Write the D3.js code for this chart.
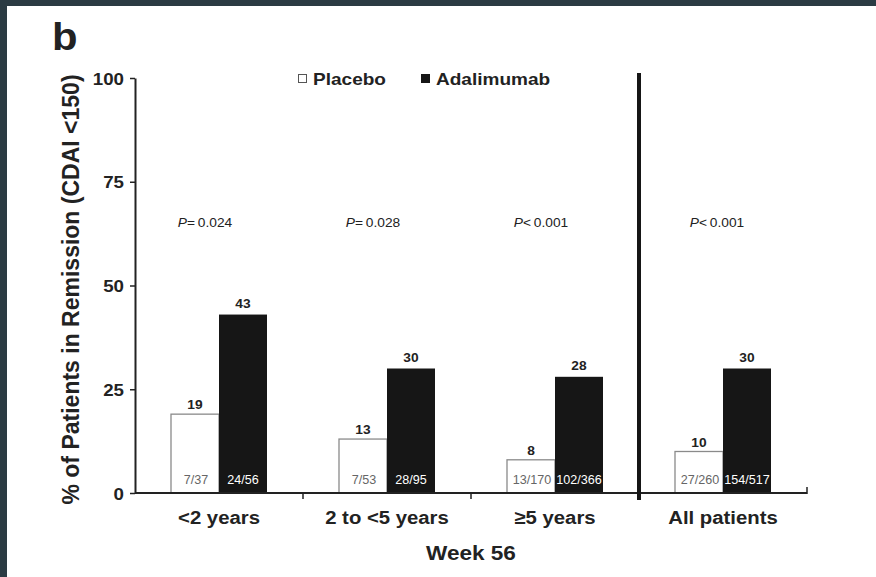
<!DOCTYPE html>
<html>
<head>
<meta charset="utf-8">
<script src="https://cdn.jsdelivr.net/npm/d3@7"></script>
<style>
  html, body { margin: 0; padding: 0; background: #2b3b43; }
  #chart { position: absolute; left: 7px; top: 6px; width: 869px; height: 571px; background: #fff; }
  text { font-family: "Liberation Sans", Arial, sans-serif; fill: #222; }
</style>
</head>
<body>
<div id="chart"></div>
<script>
// data
const categories = ["<2 years", "2 to <5 years", "\u22655 years", "All patients"];
const placebo = [19, 13, 8, 10];
const adalimumab = [43, 30, 28, 30];
const placeboN = ["7/37", "7/53", "13/170", "27/260"];
const adalimumabN = ["24/56", "28/95", "102/366", "154/517"];
const pSign = ["=", "=", "<", "<"];
const pValue = ["0.024", "0.028", "0.001", "0.001"];
const yTicks = [0, 25, 50, 75, 100];

const width = 876, height = 577;
const svg = d3.select("#chart")
    .append("svg")
    .attr("width", width - 7)
    .attr("height", height - 6)
    .attr("viewBox", `7 6 ${width - 7} ${height - 6}`)
    .style("display", "block");

// the source figure is a bit stretched sideways, so text gets widened too
const SX = 1.1;
function widen(sel, sx = SX) {
    sel.each(function() {
        const t = d3.select(this);
        const tx = +t.attr("x") || 0, ty = +t.attr("y") || 0;
        t.attr("x", 0).attr("y", 0)
         .attr("transform", `translate(${tx},${ty}) scale(${sx},1)`);
    });
}

const margin = {top: 78, left: 135, bottom: 493, right: 807};

const x = d3.scaleBand()
    .domain(categories)
    .range([margin.left, margin.right])
    .padding(0);

const barW = 48;

const y = d3.scaleLinear()
    .domain([0, 100])
    .range([margin.bottom, margin.top]);

// "b" panel letter
svg.append("text")
    .attr("x", 52).attr("y", 50)
    .style("font-size", "38px").style("font-weight", "bold")
    .text("b")
    .call(widen);

// y axis
const yAxis = svg.append("g")
    .attr("transform", `translate(${margin.left},0)`)
    .call(d3.axisLeft(y).tickValues(yTicks).tickSize(5).tickSizeOuter(0).tickPadding(6));
yAxis.select(".domain").attr("stroke", "#222").attr("stroke-width", 2);
yAxis.selectAll(".tick line").attr("stroke", "#222").attr("stroke-width", 1.5);
yAxis.selectAll(".tick text")
    .style("font-size", "17px").style("font-weight", "bold")
    .attr("fill", "#222")
    .attr("dy", "0.36em")
    .each(function() {
        const t = d3.select(this);
        t.attr("transform", `translate(${t.attr("x")},0) scale(${SX},1)`).attr("x", 0);
    });

svg.append("text")
    .attr("transform", `translate(79,${(margin.top + margin.bottom) / 2 + 4}) rotate(-90)`)
    .attr("text-anchor", "middle")
    .style("font-size", "23px").style("font-weight", "bold")
    .text("% of Patients in Remission (CDAI <150)");

// bars
const groups = svg.append("g")
    .selectAll("g")
    .data(categories)
    .join("g")
    .attr("transform", d => `translate(${x(d) + x.bandwidth() / 2},0)`);

groups.append("rect")
    .attr("x", -barW)
    .attr("y", (d, i) => y(placebo[i]))
    .attr("width", barW)
    .attr("height", (d, i) => y(0) - y(placebo[i]))
    .attr("fill", "#fff")
    .attr("stroke", "#8a8a8a")
    .attr("stroke-width", 1.3);

groups.append("rect")
    .attr("x", 0)
    .attr("y", (d, i) => y(adalimumab[i]))
    .attr("width", barW)
    .attr("height", (d, i) => y(0) - y(adalimumab[i]))
    .attr("fill", "#161616");

// value labels
groups.append("text")
    .attr("x", -barW / 2)
    .attr("y", (d, i) => y(placebo[i]) - 5)
    .attr("text-anchor", "middle")
    .style("font-size", "12.5px").style("font-weight", "bold")
    .text((d, i) => placebo[i])
    .call(widen);

groups.append("text")
    .attr("x", barW / 2)
    .attr("y", (d, i) => y(adalimumab[i]) - 7)
    .attr("text-anchor", "middle")
    .style("font-size", "12.5px").style("font-weight", "bold")
    .text((d, i) => adalimumab[i])
    .call(widen);

// n/N inside bars
groups.append("text")
    .attr("x", -barW / 2 + 1)
    .attr("y", y(0) - 9)
    .attr("text-anchor", "middle")
    .style("font-size", "12px")
    .style("fill", "#666")
    .text((d, i) => placeboN[i])
    .call(widen, 1.05);

groups.append("text")
    .attr("x", barW / 2)
    .attr("y", y(0) - 9)
    .attr("text-anchor", "middle")
    .style("font-size", "12px")
    .style("fill", "#fff")
    .text((d, i) => adalimumabN[i])
    .call(widen, 1.05);

// P values
const pText = groups.append("text")
    .attr("x", (d, i) => i === 3 ? -6 : -14)
    .attr("y", 227)
    .attr("text-anchor", "middle")
    .style("font-size", "12.5px");
pText.append("tspan").style("font-style", "italic").text("P");
pText.append("tspan").text((d, i) => pSign[i] + "\u2009" + pValue[i]);
pText.call(widen);

// x axis baseline with ticks at band edges
svg.append("line")
    .attr("x1", margin.left).attr("x2", margin.right)
    .attr("y1", y(0)).attr("y2", y(0))
    .attr("stroke", "#222").attr("stroke-width", 2);

svg.append("g")
    .selectAll("line")
    .data(categories.slice(1, 3))
    .join("line")
    .attr("x1", d => x(d)).attr("x2", d => x(d))
    .attr("y1", y(0)).attr("y2", y(0) + 6)
    .attr("stroke", "#222").attr("stroke-width", 1.5);

svg.append("line")
    .attr("x1", margin.right).attr("x2", margin.right)
    .attr("y1", y(0) + 1).attr("y2", y(0) - 6)
    .attr("stroke", "#222").attr("stroke-width", 1.5);

// separator before "All patients"
svg.append("line")
    .attr("x1", x(categories[3])).attr("x2", x(categories[3]))
    .attr("y1", 73).attr("y2", 500)
    .attr("stroke", "#161616").attr("stroke-width", 4);

// category labels
groups.append("text")
    .attr("x", 0)
    .attr("y", 524)
    .attr("text-anchor", "middle")
    .style("font-size", "19px").style("font-weight", "bold")
    .text(d => d)
    .call(widen, 1.07);

svg.append("text")
    .attr("x", (margin.left + margin.right) / 2)
    .attr("y", 560)
    .attr("text-anchor", "middle")
    .style("font-size", "20.5px").style("font-weight", "bold")
    .text("Week 56")
    .call(widen);

// legend
const legend = [
    {name: "Placebo", fill: "#fff", stroke: "#555", x: 298},
    {name: "Adalimumab", fill: "#161616", stroke: "#161616", x: 421}
];
const lg = svg.append("g")
    .selectAll("g")
    .data(legend)
    .join("g")
    .attr("transform", d => `translate(${d.x},74)`);
lg.append("rect")
    .attr("x", 0.5).attr("y", 0.5)
    .attr("width", 8).attr("height", 8)
    .attr("fill", d => d.fill)
    .attr("stroke", d => d.stroke).attr("stroke-width", 1);
lg.append("text")
    .attr("x", 15).attr("y", 11)
    .style("font-size", "17px").style("font-weight", "bold")
    .text(d => d.name)
    .call(widen, 1.12);
</script>
</body>
</html>
